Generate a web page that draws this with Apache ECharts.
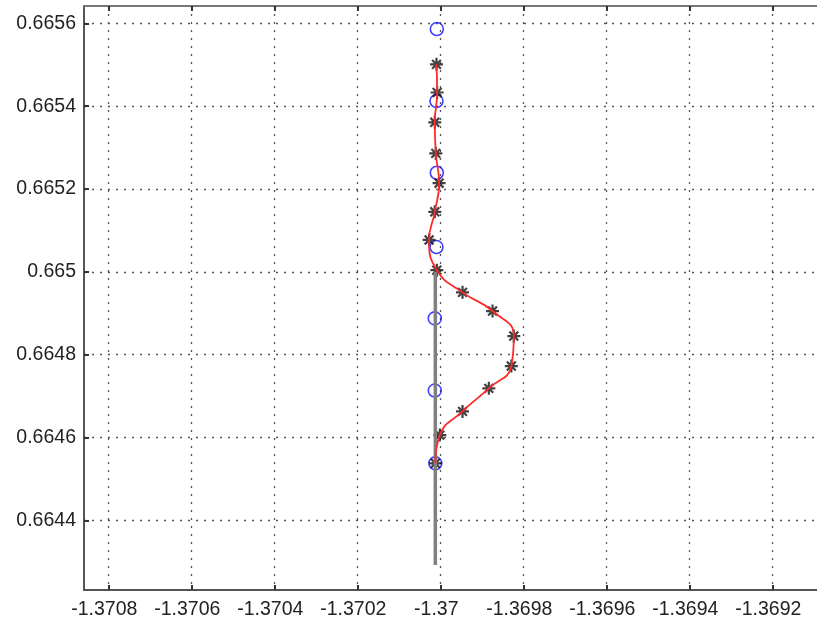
<!DOCTYPE html>
<html>
<head>
<meta charset="utf-8">
<script src="https://cdn.jsdelivr.net/npm/echarts@6/dist/echarts.min.js"></script>
<style>
  html, body { margin: 0; padding: 0; background: #fff; }
  #chart { width: 817px; height: 622px; }
</style>
</head>
<body>
<div id="chart"></div>
<script>
// Estimated track (asterisks), joined by a smooth red curve
const trackX = [-1.3700092, -1.3700077, -1.3700133, -1.3700108, -1.3700029, -1.3700133, -1.3700270, -1.3700084,
                -1.3699465, -1.3698742, -1.3698229, -1.3698289, -1.3698831, -1.3699465, -1.3700012, -1.3700120];
const trackY = [0.665501, 0.665433, 0.665361, 0.665286, 0.665214, 0.665145, 0.665077, 0.665004,
                0.6649505, 0.6649054, 0.664845, 0.6647726, 0.6647188, 0.6646632, 0.664606, 0.6645377];

// Measured positions (blue circles)
const measX = [-1.3700084, -1.3700092, -1.3700084, -1.3700092, -1.3700133, -1.3700133, -1.3700120];
const measY = [0.6655861, 0.6654123, 0.6652392, 0.6650599, 0.6648877, 0.6647135, 0.6645377];

// Reference path (grey vertical segment)
const refX = [-1.3700120, -1.3700120];
const refY = [0.6650000, 0.6642922];

// Tick values for both axes
const xTicks = [-1.3708, -1.3706, -1.3704, -1.3702, -1.37, -1.3698, -1.3696, -1.3694, -1.3692];
const yTicks = [0.6644, 0.6646, 0.6648, 0.665, 0.6652, 0.6654, 0.6656];

const pairs = (xs, ys) => xs.map((x, i) => [x, ys[i]]);

const FONT = '"Liberation Sans", Arial, Helvetica, sans-serif';
const gridLine = { show: true, lineStyle: { color: '#555', width: 1.3, type: [2, 6] } };

// Axis ranges: the plot box runs past the right edge of the page
const X_MIN = -1.3708586, X_MAX = -1.3690923;
const Y_MIN = 0.664232, Y_MAX = 0.6656418;

const chart = echarts.init(document.getElementById('chart'), null, { renderer: 'canvas' });
chart.setOption({
  animation: false,
  backgroundColor: '#fff',
  grid: { left: 84, top: 6, right: 0, bottom: 32, containLabel: false },
  xAxis: [
    {
      type: 'value', position: 'bottom',
      min: X_MIN, max: X_MAX,
      axisLine: { show: true, onZero: false, lineStyle: { color: '#555', width: 2 } },
      axisTick: { show: true, inside: true, length: 5, customValues: xTicks, lineStyle: { color: '#333', width: 2 } },
      axisLabel: {
        show: true, customValues: xTicks, margin: 10, color: '#222',
        fontFamily: FONT, fontSize: 19.5, padding: [0, 8, 0, 0],
        formatter: v => String(v)
      },
      splitLine: gridLine
    },
    {
      type: 'value', position: 'top',
      min: X_MIN, max: X_MAX,
      axisLine: { show: true, onZero: false, lineStyle: { color: '#777', width: 2 } },
      axisTick: { show: true, inside: true, length: 5, customValues: xTicks, lineStyle: { color: '#333', width: 2 } },
      axisLabel: { show: false },
      splitLine: { show: false }
    }
  ],
  yAxis: [
    {
      type: 'value', position: 'left',
      min: Y_MIN, max: Y_MAX,
      axisLine: { show: true, onZero: false, lineStyle: { color: '#555', width: 2 } },
      axisTick: { show: true, inside: true, length: 5, customValues: yTicks, lineStyle: { color: '#333', width: 2 } },
      axisLabel: {
        show: true, customValues: yTicks, margin: 8, color: '#222',
        fontFamily: FONT, fontSize: 19.5,
        formatter: v => String(v)
      },
      splitLine: gridLine
    }
  ],
  series: [
    {
      name: 'reference', type: 'line', xAxisIndex: 0, yAxisIndex: 0,
      data: pairs(refX, refY), showSymbol: false, silent: true,
      lineStyle: { color: '#808080', width: 3.5 }
    },
    {
      name: 'measured', type: 'scatter', xAxisIndex: 0, yAxisIndex: 0,
      data: pairs(measX, measY), symbol: 'circle', symbolSize: 13,
      itemStyle: { color: 'rgba(0,0,0,0)', borderColor: '#1010ff', borderWidth: 1.6 }
    },
    {
      name: 'track', type: 'line', xAxisIndex: 0, yAxisIndex: 0,
      data: pairs(trackX, trackY), smooth: 0.5, showSymbol: false,
      lineStyle: { color: '#ff2a2a', width: 1.8 }
    },
    {
      name: 'estimate', type: 'scatter', xAxisIndex: 0, yAxisIndex: 0,
      data: pairs(trackX, trackY),
      symbol: 'path://M5,0L5,10M0,5L10,5M1.6,1.6L8.4,8.4M1.6,8.4L8.4,1.6',
      symbolSize: 13,
      itemStyle: { color: '#000', borderColor: '#111', borderWidth: 2.2 }
    }
  ]
});
</script>
</body>
</html>
